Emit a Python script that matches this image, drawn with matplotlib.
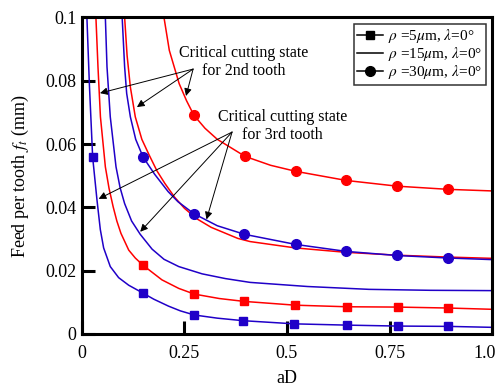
import numpy as np
import matplotlib.pyplot as plt
import matplotlib.transforms as mtransforms
from matplotlib.lines import Line2D

plt.rcParams['font.family'] = 'Liberation Serif'
plt.rcParams['mathtext.fontset'] = 'stix'

RED = '#ff0000'
BLUE = '#2000c8'

# rho = 5um, 3rd tooth (blue, squares)
b5_x = [0.012, 0.018, 0.026, 0.0366, 0.0447, 0.0528, 0.069, 0.0894, 0.114, 0.149, 0.175, 0.211, 0.240,
        0.274, 0.330, 0.393, 0.518, 0.646, 0.770, 0.893, 1.0]
b5_y = [0.100, 0.079, 0.0559, 0.0423, 0.0330, 0.0272, 0.0213, 0.0178, 0.0154, 0.0129, 0.0110, 0.0088, 0.0073,
        0.0060, 0.0050, 0.0042, 0.0032, 0.0028, 0.0025, 0.0024, 0.0021]
b5_marks = [2, 9, 13, 15, 16, 17, 18, 19]

# rho = 5um, 2nd tooth (red, squares)
r5_x = [0.034, 0.039, 0.045, 0.057, 0.066, 0.076, 0.085, 0.095, 0.114, 0.130, 0.149, 0.195, 0.236, 0.274,
        0.335, 0.395, 0.520, 0.646, 0.770, 0.893, 1.0]
r5_y = [0.100, 0.0844, 0.0686, 0.0528, 0.0460, 0.0402, 0.0357, 0.0318, 0.0265, 0.0240, 0.0217, 0.0171, 0.0144,
        0.0126, 0.0112, 0.0103, 0.0091, 0.0086, 0.0085, 0.0082, 0.0078]
r5_marks = [10, 13, 15, 16, 17, 18, 19]

# rho = 15um, 3rd tooth (blue, no markers)
b15_x = [0.057, 0.061, 0.069, 0.083, 0.093, 0.104, 0.121, 0.142, 0.171, 0.200, 0.236, 0.293, 0.350, 0.410,
         0.550, 0.700, 0.850, 1.0]
b15_y = [0.100, 0.0844, 0.0686, 0.0528, 0.0462, 0.0412, 0.0357, 0.0315, 0.0268, 0.0236, 0.0213, 0.0190, 0.0175,
         0.0163, 0.0150, 0.0141, 0.0138, 0.0137]

# rho = 15um, 2nd tooth (red, no markers)
r15_x = [0.104, 0.110, 0.118, 0.130, 0.146, 0.164, 0.183, 0.202, 0.226, 0.250, 0.280, 0.315, 0.380, 0.410,
         0.520, 0.644, 0.768, 0.893, 1.0]
r15_y = [0.100, 0.0880, 0.0780, 0.0686, 0.0615, 0.0565, 0.0515, 0.0476, 0.0432, 0.0397, 0.0364, 0.0337, 0.0302,
         0.0292, 0.0272, 0.0258, 0.0249, 0.0243, 0.0239]

# rho = 30um, 3rd tooth (blue, circles)
b30_x = [0.098, 0.104, 0.109, 0.118, 0.131, 0.149, 0.177, 0.210, 0.234, 0.273, 0.330, 0.396, 0.521, 0.644,
         0.768, 0.893, 1.0]
b30_y = [0.100, 0.0844, 0.0760, 0.0686, 0.0615, 0.0559, 0.0505, 0.0450, 0.0418, 0.0380, 0.0342, 0.0315, 0.0283,
         0.0261, 0.0248, 0.0240, 0.0235]
b30_marks = [5, 9, 11, 12, 13, 14, 15]

# rho = 30um, 2nd tooth (red, circles)
r30_x = [0.200, 0.213, 0.237, 0.255, 0.273, 0.300, 0.330, 0.398, 0.460, 0.521, 0.645, 0.769, 0.893, 1.0]
r30_y = [0.100, 0.0896, 0.0791, 0.0737, 0.0691, 0.0650, 0.0615, 0.0561, 0.0533, 0.0514, 0.0485, 0.0467, 0.0457,
         0.0452]
r30_marks = [4, 7, 9, 10, 11, 12]

# annotation arrows: text anchor -> tip
tooth2_from = (0.271, 0.0837)
tooth2_tips = [(0.0439, 0.0761), (0.134, 0.0717), (0.2537, 0.0752)]
tooth3_from = (0.366, 0.0638)
tooth3_tips = [(0.0407, 0.0427), (0.142, 0.0323), (0.3037, 0.0362)]

fig = plt.figure(figsize=(4.99, 3.87), dpi=100)
ax = fig.add_axes([0.1643, 0.137, 0.8217, 0.8178])

lw = 1.1
ax.plot(b5_x, b5_y, '-', color=BLUE, lw=lw, marker='s', ms=6, markevery=b5_marks)
ax.plot(r5_x, r5_y, '-', color=RED, lw=lw, marker='s', ms=6, markevery=r5_marks)
ax.plot(b15_x, b15_y, '-', color=BLUE, lw=lw)
ax.plot(r15_x, r15_y, '-', color=RED, lw=lw)
ax.plot(b30_x, b30_y, '-', color=BLUE, lw=lw, marker='o', ms=7, markevery=b30_marks)
ax.plot(r30_x, r30_y, '-', color=RED, lw=lw, marker='o', ms=7, markevery=r30_marks)

arrow = dict(arrowstyle='-|>', color='k', lw=0.7, mutation_scale=11, shrinkA=0, shrinkB=0)
for tip in tooth2_tips:
    ax.annotate('', xy=tip, xytext=tooth2_from, arrowprops=arrow)
for tip in tooth3_tips:
    ax.annotate('', xy=tip, xytext=tooth3_from, arrowprops=arrow)
ax.text(0.395, 0.0860, 'Critical cutting state\nfor 2nd tooth', ha='center', va='center',
        multialignment='center', fontsize=11.5)
ax.text(0.489, 0.0658, 'Critical cutting state\nfor 3rd tooth', ha='center', va='center',
        multialignment='center', fontsize=11.5)

ax.set_xlim(0, 1.0)
ax.set_ylim(0, 0.1)
ax.set_xticks([0, 0.25, 0.5, 0.75, 1.0])
ax.set_xticklabels(['0', '0.25', '0.5', '0.75', '1.0'])
ax.set_yticks([0, 0.02, 0.04, 0.06, 0.08, 0.1])
ax.set_yticklabels(['0', '0.02', '0.04', '0.06', '0.08', '0.1'])
ax.tick_params(direction='in', length=9.5, width=2.2, labelsize=13)
ax.tick_params(axis='x', pad=8)
ax.tick_params(axis='y', pad=4)
for sp in ax.spines.values():
    sp.set_linewidth(2.2)

# keep the last x label inside the figure
lab = ax.get_xticklabels()[-1]
lab.set_transform(lab.get_transform() + mtransforms.ScaledTranslation(-5 / 72, 0, fig.dpi_scale_trans))

ax.set_xlabel('aD', fontsize=13, labelpad=6)
ax.set_ylabel('Feed per tooth $f_t$ (mm)', fontsize=13, labelpad=10)

handles = [
    Line2D([], [], color='k', lw=lw, marker='s', ms=6),
    Line2D([], [], color='k', lw=lw),
    Line2D([], [], color='k', lw=lw, marker='o', ms=7),
]
labels = [r'$\rho$ =5$\mu$m, $\lambda$=0°', r'$\rho$ =15$\mu$m, $\lambda$=0°', r'$\rho$ =30$\mu$m, $\lambda$=0°']
leg = ax.legend(handles, labels, loc='upper right', fontsize=11, frameon=True, fancybox=False,
                handlelength=1.7, handletextpad=0.3, labelspacing=0.0, borderpad=0.25,
                borderaxespad=0.4)
leg.get_frame().set_edgecolor('k')
leg.get_frame().set_linewidth(1.1)

fig.savefig('out.png', dpi=100)
